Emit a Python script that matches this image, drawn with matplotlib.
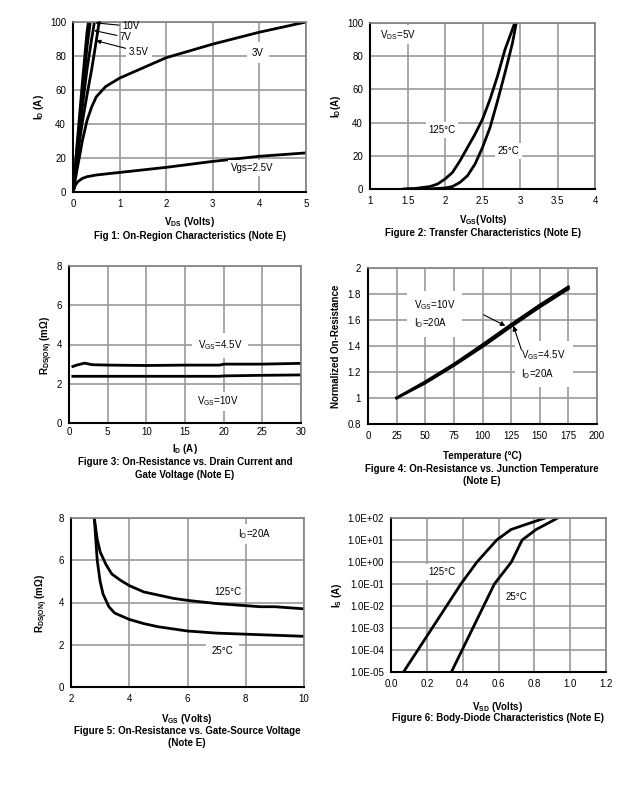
import matplotlib.pyplot as plt
import numpy as np

plt.rcParams['font.family'] = ['Liberation Sans', 'DejaVu Sans']

# ---- Fig 1: on-region characteristics
fig1_vds_10v = [0, 0.1, 0.2, 0.3, 0.33]
fig1_id_10v = [0, 32, 64, 94, 100]
fig1_vds_7v = [0, 0.1, 0.2, 0.3, 0.37]
fig1_id_7v = [0, 29, 57, 85, 100]
fig1_vds_45v = [0, 0.1, 0.2, 0.3, 0.4, 0.46]
fig1_id_45v = [0, 26, 50, 72, 90, 100]
fig1_vds_35v = [0, 0.1, 0.2, 0.3, 0.4, 0.5, 0.56]
fig1_id_35v = [0, 22, 41, 57, 72, 89, 100]
fig1_vds_3v = [0, 0.1, 0.2, 0.3, 0.4, 0.5, 0.7, 1.0, 1.5, 2.0, 2.5, 3.0, 4.0, 5.0]
fig1_id_3v = [0, 15, 30, 42, 50, 56, 62, 67, 73, 79, 83, 87, 94, 100]
fig1_vds_25v = [0, 0.05, 0.1, 0.2, 0.3, 0.5, 1.0, 2.0, 3.0, 4.0, 5.0]
fig1_id_25v = [0, 4, 6, 8, 9, 10, 11.5, 14.5, 18, 21, 23]

# ---- Fig 2: transfer characteristics
fig2_vgs_125 = [1.45, 1.6, 1.8, 1.9, 2.0, 2.1, 2.2, 2.3, 2.4, 2.5, 2.6, 2.7, 2.8, 2.93]
fig2_id_125 = [0, 0.3, 1.5, 3, 6, 10, 17, 25, 33, 42, 54, 68, 84, 100]
fig2_vgs_25 = [1.5, 1.8, 2.0, 2.1, 2.2, 2.3, 2.4, 2.45, 2.5, 2.6, 2.7, 2.8, 2.9, 2.95]
fig2_id_25 = [0, 0.1, 0.6, 1.5, 4, 8, 15, 20, 25, 37, 53, 70, 88, 100]

# ---- Fig 3: on-resistance vs drain current
fig3_id = [0.5, 1, 2, 3, 5, 10, 15, 19.5, 20, 25, 30]
fig3_r_45v = [2.88, 2.95, 3.05, 2.97, 2.95, 2.93, 2.95, 2.95, 3.0, 3.0, 3.04]
fig3_r_10v = [2.38, 2.38, 2.38, 2.38, 2.38, 2.38, 2.38, 2.38, 2.4, 2.43, 2.45]

# ---- Fig 4: normalized on-resistance vs temperature
fig4_temp = [25, 50, 75, 100, 125, 150, 175]
fig4_r_10v = [1.0, 1.115, 1.25, 1.395, 1.55, 1.70, 1.84]
fig4_r_45v = [1.0, 1.125, 1.26, 1.41, 1.565, 1.715, 1.855]

# ---- Fig 5: on-resistance vs gate-source voltage
fig5_vgs_125 = [2.8, 2.9, 3.0, 3.2, 3.4, 3.7, 4.0, 4.5, 5.0, 5.5, 6.0, 7.0, 8.0, 8.5, 9.0, 10.0]
fig5_r_125 = [8, 7, 6.4, 5.8, 5.35, 5.05, 4.8, 4.5, 4.35, 4.2, 4.1, 3.95, 3.85, 3.8, 3.8, 3.7]
fig5_vgs_25 = [2.8, 2.85, 2.9, 3.0, 3.1, 3.3, 3.5, 4.0, 4.5, 5.0, 6.0, 7.0, 8.0, 9.0, 10.0]
fig5_r_25 = [8, 7, 6, 5, 4.4, 3.8, 3.5, 3.2, 3.0, 2.85, 2.65, 2.55, 2.5, 2.45, 2.4]

# ---- Fig 6: body-diode characteristics
fig6_vsd_125 = [0.07, 0.15, 0.23, 0.31, 0.39, 0.48, 0.59, 0.67, 0.75, 0.86]
fig6_is_125 = [1e-5, 1e-4, 1e-3, 1e-2, 1e-1, 1e0, 1e1, 3e1, 5e1, 1e2]
fig6_vsd_25 = [0.337, 0.397, 0.457, 0.517, 0.577, 0.672, 0.732, 0.81, 0.88, 0.93]
fig6_is_25 = [1e-5, 1e-4, 1e-3, 1e-2, 1e-1, 1e0, 1e1, 3e1, 6e1, 1e2]
fig6_ticks = [1e-5, 1e-4, 1e-3, 1e-2, 1e-1, 1e0, 1e1, 1e2]
fig6_ticklabels = ['1.0E-05', '1.0E-04', '1.0E-03', '1.0E-02',
                   '1.0E-01', '1.0E+00', '1.0E+01', '1.0E+02']

W, H = 644, 797
fig = plt.figure(figsize=(W / 100, H / 100), dpi=100)

GRID = '#999999'
LW = 2.0
BOX = dict(facecolor='white', edgecolor='none', pad=2)


def add_box(left, top, right, bottom):
    """Add an axes given its pixel box (top-left origin)"""
    ax = fig.add_axes([left / W, 1 - bottom / H, (right - left) / W, (bottom - top) / H])
    ax.set_axisbelow(True)
    ax.grid(True, color=GRID, lw=1.2)
    ax.tick_params(length=0, labelsize=7, pad=5)
    for side in ('left', 'bottom'):
        ax.spines[side].set_linewidth(1.5)
    for side in ('top', 'right'):
        ax.spines[side].set_color('#808080')
        ax.spines[side].set_linewidth(1.2)
    return ax


def px_text(x, y, s, **kw):
    kw.setdefault('ha', 'center')
    kw.setdefault('va', 'center')
    fig.text(x / W, 1 - y / H, s, **kw)


def bold_text(x, y, s, **kw):
    px_text(x, y, s, fontsize=7, fontweight='bold', **kw)


# Fig 1
ax1 = add_box(73, 22, 306, 192)
for xs, ys in ((fig1_vds_10v, fig1_id_10v), (fig1_vds_7v, fig1_id_7v),
               (fig1_vds_45v, fig1_id_45v), (fig1_vds_35v, fig1_id_35v),
               (fig1_vds_3v, fig1_id_3v), (fig1_vds_25v, fig1_id_25v)):
    ax1.plot(xs, ys, color='black', lw=LW, clip_on=True)
ax1.set_xlim(0, 5)
ax1.set_ylim(0, 100)
ax1.set_xticks(range(6))
ax1.set_yticks(range(0, 101, 20))
arrow = dict(arrowstyle='-|>', color='black', lw=0.8, mutation_scale=6, shrinkA=0, shrinkB=0)
ax1.annotate('10V', xy=(0.48, 99.5), xytext=(1.05, 97.5), fontsize=7, va='center',
             arrowprops=arrow)
ax1.annotate('7V', xy=(0.45, 95), xytext=(1.0, 91), fontsize=7, va='center',
             arrowprops=arrow)
ax1.annotate('3.5V', xy=(0.5, 89), xytext=(1.2, 82.5), fontsize=7, va='center',
             arrowprops=arrow, bbox=BOX)
ax1.text(3.97, 82, '3V', fontsize=7, ha='center', va='center',
         bbox=dict(facecolor='white', edgecolor='none', pad=4))
ax1.text(3.84, 14, 'Vgs=2.5V', fontsize=7, ha='center', va='center', bbox=BOX)
bold_text(39, 107, r'I$_\mathregular{D}$ (A)', rotation=90)
bold_text(190, 222, r'V$_\mathregular{DS}$ (Volts)')
bold_text(190, 236, 'Fig 1: On-Region Characteristics (Note E)')

# Fig 2
ax2 = add_box(370, 23, 595, 189)
ax2.plot(fig2_vgs_125, fig2_id_125, color='black', lw=LW)
ax2.plot(fig2_vgs_25, fig2_id_25, color='black', lw=LW)
ax2.set_xlim(1, 4)
ax2.set_ylim(0, 100)
ax2.set_xticks([1, 1.5, 2, 2.5, 3, 3.5, 4])
ax2.set_xticklabels(['1', '1.5', '2', '2.5', '3', '3.5', '4'])
ax2.set_yticks(range(0, 101, 20))
ax2.text(1.13, 93, r'V$_\mathregular{DS}$=5V', fontsize=7, ha='left', va='center', bbox=BOX)
ax2.text(1.96, 35.5, '125°C', fontsize=7, ha='center', va='center', bbox=BOX)
ax2.text(2.85, 23, '25°C', fontsize=7, ha='center', va='center', bbox=BOX)
bold_text(336, 106, r'I$_\mathregular{D}$(A)', rotation=90)
bold_text(483, 220, r'V$_\mathregular{GS}$(Volts)')
bold_text(483, 233, 'Figure 2: Transfer Characteristics (Note E)')

# Fig 3
ax3 = add_box(69, 266, 301, 423)
ax3.plot(fig3_id, fig3_r_45v, color='black', lw=LW)
ax3.plot(fig3_id, fig3_r_10v, color='black', lw=LW)
ax3.set_xlim(0, 30)
ax3.set_ylim(0, 8)
ax3.set_xticks(range(0, 31, 5))
ax3.set_yticks(range(0, 9, 2))
ax3.tick_params(axis='x', pad=3)
ax3.text(19.5, 3.97, r'V$_\mathregular{GS}$=4.5V', fontsize=7, ha='center', va='center',
         bbox=dict(facecolor='white', edgecolor='none', pad=4))
ax3.text(19.3, 1.1, r'V$_\mathregular{GS}$=10V', fontsize=7, ha='center', va='center', bbox=BOX)
bold_text(47, 345, r'R$_\mathregular{DS(ON)}$ (mΩ)', rotation=90)
bold_text(185, 449, r'I$_\mathregular{D}$ (A)')
bold_text(185, 462, 'Figure 3: On-Resistance vs. Drain Current and')
bold_text(185, 475, 'Gate Voltage (Note E)')

# Fig 4
ax4 = add_box(368, 268, 597, 424)
ax4.plot(fig4_temp, fig4_r_10v, color='black', lw=LW)
ax4.plot(fig4_temp, fig4_r_45v, color='black', lw=LW)
ax4.set_xlim(0, 200)
ax4.set_ylim(0.8, 2)
ax4.set_xticks(range(0, 201, 25))
ax4.set_yticks([0.8, 1, 1.2, 1.4, 1.6, 1.8, 2])
ax4.set_yticklabels(['0.8', '1', '1.2', '1.4', '1.6', '1.8', '2'])
arrow4 = dict(arrowstyle='-|>', color='black', lw=0.8, mutation_scale=7, shrinkA=0, shrinkB=0)
ax4.text(40, 1.77, 'V$_\\mathregular{GS}$=10V\nI$_\\mathregular{D}$=20A', fontsize=7,
         ha='left', va='top', linespacing=1.5,
         bbox=dict(facecolor='white', edgecolor='none', pad=5))
ax4.annotate('', xy=(120, 1.555), xytext=(101, 1.64), arrowprops=arrow4)
ax4.text(134, 1.385, 'V$_\\mathregular{GS}$=4.5V\nI$_\\mathregular{D}$=20A', fontsize=7,
         ha='left', va='top', linespacing=1.5,
         bbox=dict(facecolor='white', edgecolor='none', pad=5))
ax4.annotate('', xy=(127, 1.555), xytext=(134, 1.37), arrowprops=arrow4)
bold_text(336, 346, 'Normalized On-Resistance', rotation=90)
bold_text(482, 456, 'Temperature (°C)')
bold_text(482, 469, 'Figure 4: On-Resistance vs. Junction Temperature')
bold_text(482, 481, '(Note E)')

# Fig 5
ax5 = add_box(71, 518, 304, 687)
ax5.plot(fig5_vgs_125, fig5_r_125, color='black', lw=LW)
ax5.plot(fig5_vgs_25, fig5_r_25, color='black', lw=LW)
ax5.set_xlim(2, 10)
ax5.set_ylim(0, 8)
ax5.set_xticks(range(2, 11, 2))
ax5.set_yticks(range(0, 9, 2))
ax5.text(8.29, 7.24, r'I$_\mathregular{D}$=20A', fontsize=7, ha='center', va='center', bbox=BOX)
ax5.text(7.4, 4.5, '125°C', fontsize=7, ha='center', va='center', bbox=BOX)
ax5.text(7.2, 1.7, '25°C', fontsize=7, ha='center', va='center',
         bbox=dict(facecolor='white', edgecolor='none', pad=4))
bold_text(42, 603, r'R$_\mathregular{DS(ON)}$ (mΩ)', rotation=90)
bold_text(187, 719, r'V$_\mathregular{GS}$ (Volts)')
bold_text(187, 731, 'Figure 5: On-Resistance vs. Gate-Source Voltage')
bold_text(187, 743, '(Note E)')

# Fig 6
ax6 = add_box(391, 518, 606, 672)
ax6.plot(fig6_vsd_125, fig6_is_125, color='black', lw=LW)
ax6.plot(fig6_vsd_25, fig6_is_25, color='black', lw=LW)
ax6.set_yscale('log')
ax6.set_xlim(0, 1.2)
ax6.set_ylim(1e-5, 1e2)
ax6.set_xticks([0, 0.2, 0.4, 0.6, 0.8, 1.0, 1.2])
ax6.set_xticklabels(['0.0', '0.2', '0.4', '0.6', '0.8', '1.0', '1.2'])
ax6.set_yticks(fig6_ticks)
ax6.set_yticklabels(fig6_ticklabels)
ax6.yaxis.set_minor_locator(plt.NullLocator())
ax6.text(0.285, 0.35, '125°C', fontsize=7, ha='center', va='center', bbox=BOX)
ax6.text(0.698, 0.025, '25°C', fontsize=7, ha='center', va='center', bbox=BOX)
bold_text(337, 595, r'I$_\mathregular{S}$ (A)', rotation=90)
bold_text(498, 707, r'V$_\mathregular{SD}$ (Volts)')
bold_text(498, 718, 'Figure 6: Body-Diode Characteristics (Note E)')

fig.savefig('out.png', dpi=100)
